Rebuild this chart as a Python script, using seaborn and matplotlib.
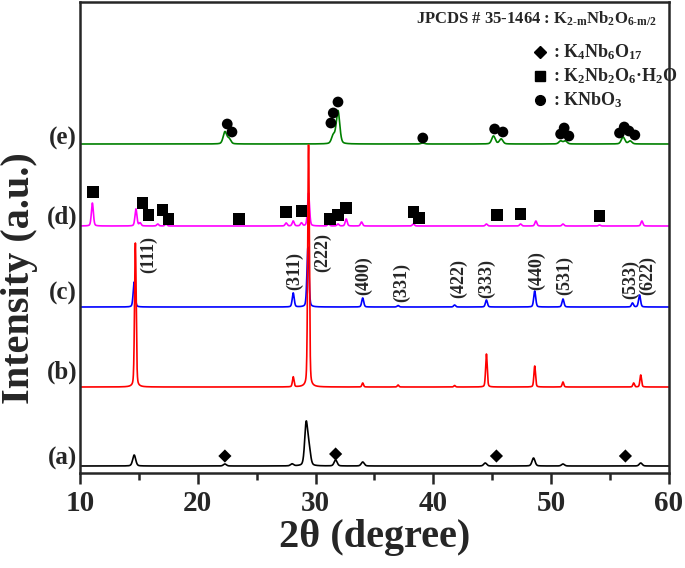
import numpy as np
import pandas as pd
import seaborn as sns
import matplotlib

matplotlib.use("Agg")
import matplotlib.pyplot as plt
from matplotlib.ticker import MultipleLocator

# peak lists: position (2theta), height (pixel-ish units)
A_POS = [14.6, 22.3, 28.0, 29.2, 29.45, 31.7, 34.0, 44.4, 48.5, 51.0, 57.6]
A_HGT = [11, 2, 2, 42, 16, 6, 4, 3, 8, 2, 3]
B_POS = [14.7, 28.1, 29.4, 34.0, 37.0, 41.8, 44.5, 48.6, 51.0, 57.0, 57.6]
B_HGT = [144, 10, 242, 4, 2, 1.5, 33, 21, 5, 4, 12]
C_POS = [14.6, 28.1, 29.35, 34.0, 37.0, 41.8, 44.5, 48.6, 51.0, 56.9, 57.5]
C_HGT = [25, 14, 60, 9, 1.5, 2, 7, 16, 8, 4, 12]
D_POS = [11.05, 14.75, 15.1, 16.6, 17.3, 27.5, 28.1, 28.8, 29.4, 31.1, 31.9,
         32.6, 33.9, 38.3, 44.5, 47.4, 48.7, 51.0, 54.1, 57.7]
D_HGT = [23, 17, 3, 2, 2, 3, 5, 3, 33, 2, 2, 7, 4, 2, 2, 2, 5, 2, 1, 5]
E_POS = [22.3, 22.65, 31.5, 31.9, 39.1, 45.1, 45.75, 50.8, 51.2, 56.1, 56.7]
E_HGT = [12, 5, 8, 33, 1, 8, 5, 3, 3, 7, 3]

SAMPLES = ["(a)", "(b)", "(c)", "(d)", "(e)"]
OFFSETS = [7, 86, 166, 247, 329]
LABEL_Y = [15, 101, 180, 256, 335]
FWHM = [0.3, 0.16, 0.2, 0.2, 0.35]
COLORS = ["black", "#ff0000", "#0000ff", "#ff00ff", "#008000"]

# phase markers
DIAMOND_X = [22.3, 31.7, 45.35, 56.3]
DIAMOND_Y = [17, 19, 17, 17]
SQUARE_X = [11.1, 15.3, 15.8, 17.0, 17.5, 23.5, 27.5, 28.8, 31.2, 31.9, 32.6,
            38.3, 38.8, 45.4, 47.4, 54.1]
SQUARE_Y = [281, 270, 258, 263, 254, 254, 261, 262, 254, 258, 265, 261, 255,
            258, 259, 257]
CIRCLE_X = [22.5, 22.9, 31.3, 31.5, 31.9, 39.1, 45.2, 45.9, 50.8, 51.1, 51.5,
            55.8, 56.2, 56.6, 57.1]
CIRCLE_Y = [349, 341, 350, 360, 371, 335, 344, 341, 339, 345, 337, 340, 346,
            342, 338]

# Miller indices on pattern (c)
HKL = ["(111)", "(311)", "(222)", "(400)", "(331)", "(422)", "(333)", "(440)",
       "(531)", "(533)", "(622)"]
HKL_X = [15.8, 28.25, 30.6, 34.1, 37.3, 42.1, 44.5, 48.8, 51.1, 56.75, 58.15]
HKL_Y = [219, 202, 221, 197, 190, 195, 195, 202, 198, 194, 198]


def profile(x, pos, hgt, fwhm):
    y = np.zeros_like(x)
    for p, h in zip(pos, hgt):
        g = np.exp(-4 * np.log(2) * ((x - p) / fwhm) ** 2)
        lor = 1 / (1 + 4 * ((x - p) / fwhm) ** 2)
        y += h * (0.7 * g + 0.3 * lor)
    return y


sns.set_style("ticks")
plt.rcParams["font.family"] = ["Liberation Serif", "DejaVu Serif"]
plt.rcParams["font.weight"] = "bold"
plt.rcParams["mathtext.fontset"] = "custom"
plt.rcParams["mathtext.rm"] = "Liberation Serif:bold"
plt.rcParams["mathtext.it"] = "Liberation Serif:bold"
plt.rcParams["mathtext.bf"] = "Liberation Serif:bold"

x = np.linspace(10, 60, 5001)
peaks = [(A_POS, A_HGT), (B_POS, B_HGT), (C_POS, C_HGT), (D_POS, D_HGT), (E_POS, E_HGT)]

fig = plt.figure(figsize=(6.85, 5.68), dpi=100)
ax = fig.add_axes([80 / 685, 95 / 568, 589 / 685, 471 / 568])

draw_order = [0, 2, 3, 4, 1]
for i in draw_order:
    pos, hgt = peaks[i]
    df = pd.DataFrame({"x": x, "y": OFFSETS[i] + profile(x, pos, hgt, FWHM[i])})
    sns.lineplot(data=df, x="x", y="y", color=COLORS[i], lw=1.2,
                 estimator=None, sort=False, ax=ax)

sns.scatterplot(x=DIAMOND_X, y=DIAMOND_Y, marker="D", s=45, color="black",
                edgecolor="none", ax=ax, zorder=5)
sns.scatterplot(x=SQUARE_X, y=SQUARE_Y, marker="s", s=70, color="black",
                edgecolor="none", ax=ax, zorder=5)
sns.scatterplot(x=CIRCLE_X, y=CIRCLE_Y, marker="o", s=60, color="black",
                edgecolor="none", ax=ax, zorder=5)

for lab, hx, hy in zip(HKL, HKL_X, HKL_Y):
    ax.text(hx, hy, lab, rotation=90, ha="center", va="center",
            fontsize=13, fontweight="bold")

for lab, ly in zip(SAMPLES, LABEL_Y):
    ax.text(9.75, ly, lab, ha="right", va="center", fontsize=18,
            fontweight="bold", clip_on=False)

# phase key
ax.text(58.98, 454, r"JPCDS # 35-1464 : K$_{2\text{-}m}$Nb$_2$O$_{6\text{-}m/2}$",
        ha="right", va="center", fontsize=12, fontweight="bold")
ax.plot([49.05], [421], marker="D", ms=6, color="black", ls="none")
ax.plot([49.05], [397], marker="s", ms=7.5, color="black", ls="none")
ax.plot([49.05], [373], marker="o", ms=7, color="black", ls="none")
ax.text(50.15, 421, ": K$_4$Nb$_6$O$_{17}$", va="center", fontsize=13, fontweight="bold")
ax.text(50.15, 397, ": K$_2$Nb$_2$O$_6$·H$_2$O", va="center", fontsize=13, fontweight="bold")
ax.text(50.15, 373, ": KNbO$_3$", va="center", fontsize=13, fontweight="bold")

ax.set_xlim(10, 60)
ax.set_ylim(0, 471)
ax.set_yticks([])
ax.xaxis.set_major_locator(MultipleLocator(10))
ax.xaxis.set_minor_locator(MultipleLocator(5))
ax.tick_params(axis="x", which="major", direction="out", length=8, width=1.8,
               labelsize=21, pad=4)
ax.tick_params(axis="x", which="minor", direction="out", length=5, width=1.8)
for lbl in ax.get_xticklabels():
    lbl.set_fontweight("bold")
for sp in ax.spines.values():
    sp.set_visible(True)
    sp.set_linewidth(1.8)

ax.set_xlabel("2θ (degree)", fontsize=29, fontweight="bold", labelpad=2)
ax.set_ylabel("Intensity (a.u.)", fontsize=29, fontweight="bold")
ax.yaxis.set_label_coords(-0.072, 0.414)

fig.savefig("out.png", dpi=100)
plt.close(fig)
